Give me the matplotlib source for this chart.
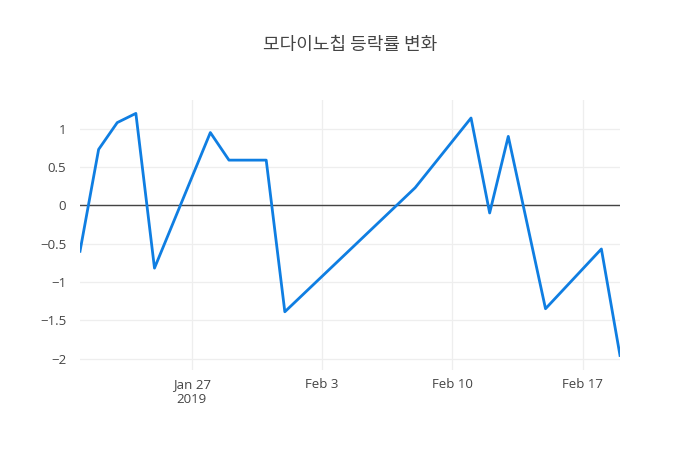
import pandas as pd
import matplotlib
matplotlib.use('Agg')
import matplotlib.pyplot as plt

# 등락률 data
dates = ['2019-01-21', '2019-01-22', '2019-01-23', '2019-01-24', '2019-01-25',
         '2019-01-28', '2019-01-29', '2019-01-31', '2019-02-01', '2019-02-08',
         '2019-02-11', '2019-02-12', '2019-02-13', '2019-02-15', '2019-02-18',
         '2019-02-19']
change = [-0.60, 0.73, 1.08, 1.20, -0.82,
          0.95, 0.59, 0.59, -1.39, 0.23,
          1.14, -0.10, 0.90, -1.35, -0.57,
          -1.96]
tick_dates = ['2019-01-27', '2019-02-03', '2019-02-10', '2019-02-17']
tick_labels = ['Jan 27\n2019', 'Feb 3', 'Feb 10', 'Feb 17']
y_ticks = [-2, -1.5, -1, -0.5, 0, 0.5, 1]

plt.rcParams['font.family'] = ['Open Sans', 'Noto Sans CJK KR', 'DejaVu Sans']

x = pd.to_datetime(dates)

fig = plt.figure(figsize=(7, 4.5), dpi=100)
ax = fig.add_axes([80 / 700, 80 / 450, 540 / 700, 270 / 450])

ax.plot(x, change, color='#0f7ee2', linewidth=2, zorder=3)
ax.axhline(0, color='#444444', linewidth=1, zorder=2)

ax.set_xlim(x[0], x[-1])
ax.set_ylim(-2.15, 1.375)

ax.set_xticks(pd.to_datetime(tick_dates))
ax.set_xticklabels(tick_labels)
ax.set_yticks(y_ticks)
ax.set_yticklabels(['\u22122', '\u22121.5', '\u22121', '\u22120.5', '0', '0.5', '1'])

ax.grid(True, color='#eeeeee', linewidth=0.9, zorder=0)
ax.set_axisbelow(True)
for s in ax.spines.values():
    s.set_visible(False)
ax.tick_params(length=0, colors='#444444', labelsize=9.5, pad=6)
ax.tick_params(axis='y', pad=10)

fig.text(0.5, 1 - 45 / 450, '모다이노칩 등락률 변화', ha='center', va='center',
         fontsize=13, color='#444444', family=['Noto Sans CJK KR', 'DejaVu Sans'])

fig.savefig('out.png', dpi=100)
